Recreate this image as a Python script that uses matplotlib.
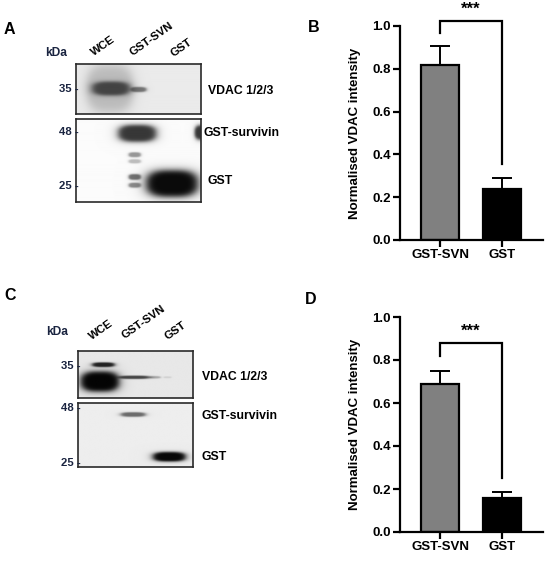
import numpy as np
import matplotlib
matplotlib.use('Agg')
import matplotlib.pyplot as plt

plt.rcParams['font.family'] = ['Liberation Sans', 'DejaVu Sans']

W, H = 550, 563

# ---------------- data ----------------
lanes = ['WCE', 'GST-SVN', 'GST']
groups = ['GST-SVN', 'GST']

b_means = [0.82, 0.24]
b_err = [0.085, 0.048]
b_bracket = [1.023, 0.967, 0.355]   # top, left foot, right foot

d_means = [0.69, 0.16]
d_err = [0.06, 0.027]
d_bracket = [0.88, 0.82, 0.25]

# bands: (x centre, y centre, half width, half height, darkness) in blot fraction
a_top_bands = [(0.27, 0.50, 0.19, 0.48, 0.20),
               (0.28, 0.50, 0.155, 0.14, 0.64),
               (0.50, 0.52, 0.065, 0.05, 0.50)]
a_bot_bands = [(0.49, 0.17, 0.155, 0.105, 0.78),
               (0.47, 0.43, 0.05, 0.03, 0.40),
               (0.47, 0.51, 0.05, 0.025, 0.25),
               (0.47, 0.70, 0.05, 0.035, 0.55),
               (0.47, 0.80, 0.05, 0.03, 0.45),
               (0.77, 0.78, 0.21, 0.165, 0.96),
               (1.01, 0.16, 0.06, 0.09, 0.78)]
c_top_bands = [(0.19, 0.65, 0.17, 0.22, 0.98),
               (0.22, 0.29, 0.10, 0.05, 0.85),
               (0.49, 0.56, 0.14, 0.035, 0.70),
               (0.67, 0.56, 0.05, 0.025, 0.25),
               (0.78, 0.56, 0.035, 0.02, 0.10)]
c_bot_bands = [(0.48, 0.19, 0.11, 0.035, 0.55),
               (0.795, 0.845, 0.145, 0.075, 0.97)]


def render_blot(bands, bg, nx=250, ny=125):
    xx, yy = np.meshgrid(np.linspace(0, 1, nx), np.linspace(0, 1, ny))
    keep = np.ones_like(xx)
    for cx, cy, hw, hh, dk in bands:
        d = np.abs((xx - cx) / hw) ** 3 + np.abs((yy - cy) / hh) ** 2.5
        keep *= 1 - dk / (1 + d ** 3)
    return bg * keep


fig = plt.figure(figsize=(W / 100, H / 100), dpi=100)


def px_axes(x0, y0, x1, y1):
    return fig.add_axes([x0 / W, 1 - y1 / H, (x1 - x0) / W, (y1 - y0) / H])


def ftext(x, y, s, **kw):
    kw.setdefault('fontweight', 'bold')
    kw.setdefault('fontsize', 8.8)
    fig.text(x / W, 1 - y / H, s, **kw)


def blot(box, bands, bg):
    ax = px_axes(*box)
    ax.imshow(render_blot(bands, bg), cmap='gray', vmin=0, vmax=1,
              extent=(0, 1, 1, 0), aspect='auto', interpolation='bilinear')
    ax.set_xticks([])
    ax.set_yticks([])
    for s in ax.spines.values():
        s.set_color('#2a2a2a')
        s.set_linewidth(1.2)
    return ax


navy = '#1a2440'


def blot_panel(letter, lp, kda, lane_pos, top_box, bot_box, top, bot,
               marks, names, bg_top, bg_bot):
    ftext(lp[0], lp[1], letter, fontsize=11.5, ha='left', va='center')
    ftext(kda[0], kda[1], 'kDa', fontsize=8.6, color=navy, ha='center', va='center')
    for (x, y), s in zip(lane_pos, lanes):
        ftext(x, y, s, fontsize=8.2, rotation=35, ha='center', va='center')
    blot(top_box, top, bg_top)
    blot(bot_box, bot, bg_bot)
    for x, y, s in marks:
        ftext(x, y, s + ' -', fontsize=8.2, color=navy, ha='right', va='center')
    for x, y, s in names:
        ftext(x, y, s, ha='left', va='center')


blot_panel('A', (4, 29), (56, 53), [(103, 46), (151, 39), (181, 48)],
           (76, 64, 201, 114), (76, 119, 201, 202), a_top_bands, a_bot_bands,
           [(79, 89, '35'), (79, 132, '48'), (79, 186, '25')],
           [(208, 91, 'VDAC 1/2/3'), (203, 133, 'GST-survivin'), (208, 181, 'GST')],
           0.92, 0.985)

blot_panel('C', (4, 295), (57, 332), [(101, 330), (143, 322), (175, 331)],
           (78, 351, 193, 398), (78, 403, 193, 467), c_top_bands, c_bot_bands,
           [(81, 366, '35'), (81, 408, '48'), (81, 463, '25')],
           [(202, 377, 'VDAC 1/2/3'), (202, 416, 'GST-survivin'), (202, 457, 'GST')],
           0.91, 0.93)


def bar_panel(letter, lp, box, means, err, bracket):
    ftext(lp[0], lp[1], letter, fontsize=11.5, ha='left', va='center')
    ax = px_axes(*box)
    x = np.arange(len(groups))
    ax.bar(x, means, width=0.62, color=['#808080', '#000000'],
           edgecolor='black', linewidth=1.6, zorder=2)
    ax.errorbar(x, means, yerr=[np.zeros(len(err)), err], fmt='none',
                ecolor='black', elinewidth=1.4, capsize=7, capthick=1.4, zorder=1)
    top, lf, rf = bracket
    ax.plot([0, 0, 1, 1], [lf, top, top, rf], color='black', lw=1.6,
            clip_on=False, solid_joinstyle='miter')
    ax.text(0.5, top + 0.02, '***', ha='center', va='bottom',
            fontsize=12, fontweight='bold')
    ax.set_xlim(-0.645, 1.66)
    ax.set_ylim(0, 1.0)
    ax.set_yticks(np.arange(0, 1.01, 0.2))
    ax.set_yticklabels(['%.1f' % v for v in np.arange(0, 1.01, 0.2)])
    ax.set_xticks(x)
    ax.set_xticklabels(groups)
    for s in ('top', 'right'):
        ax.spines[s].set_visible(False)
    for s in ('left', 'bottom'):
        ax.spines[s].set_linewidth(1.6)
    ax.tick_params(width=1.6, length=5, labelsize=9.5, pad=1.5)
    for t in ax.get_xticklabels() + ax.get_yticklabels():
        t.set_fontweight('bold')
    ax.set_ylabel('Normalised VDAC intensity', fontsize=9.5, fontweight='bold')
    ax.yaxis.set_label_coords(-0.27, 0.5)


bar_panel('B', (308, 28), (400, 26, 543, 240), b_means, b_err, b_bracket)
bar_panel('D', (305, 300), (400, 317, 543, 532), d_means, d_err, d_bracket)

fig.savefig('out.png', dpi=100)
